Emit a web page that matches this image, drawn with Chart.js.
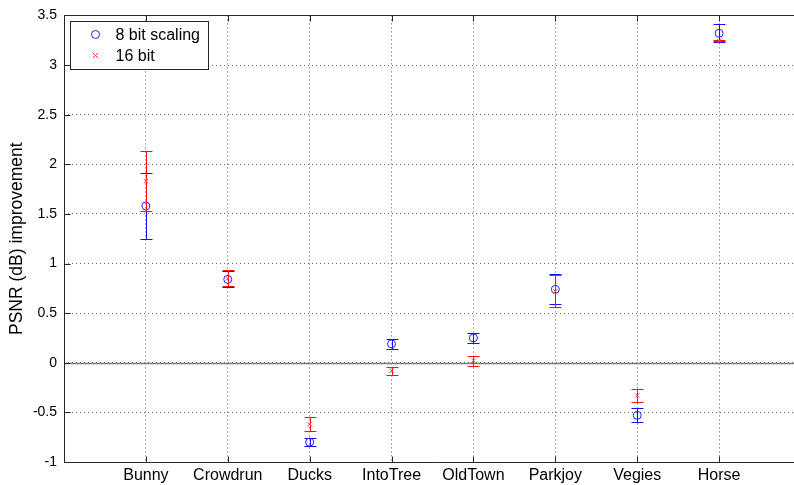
<!DOCTYPE html>
<html>
<head>
<meta charset="utf-8">
<script src="https://cdn.jsdelivr.net/npm/chart.js@4/dist/chart.umd.min.js"></script>
<style>
  html, body { margin: 0; padding: 0; background: #fff; overflow: hidden; }
  #wrap { position: relative; width: 806px; height: 485px; }
</style>
</head>
<body>
<div id="wrap"><canvas id="psnrChart"></canvas></div>
<script>
const categories = ["Bunny", "Crowdrun", "Ducks", "IntoTree", "OldTown", "Parkjoy", "Vegies", "Horse"];
const psnr8 = [1.58, 0.84, -0.80, 0.19, 0.25, 0.74, -0.53, 3.32];
const err8 = [0.33, 0.08, 0.04, 0.05, 0.05, 0.15, 0.07, 0.09];
const psnr16 = [1.83, 0.85, -0.62, -0.08, 0.02, 0.72, -0.33, 3.245];
const err16 = [0.30, 0.08, 0.07, 0.04, 0.05, 0.16, 0.07, 0.005];
const seriesNames = ["8 bit scaling", "16 bit"];
const yMin = -1, yMax = 3.5, yStep = 0.5;

const FONT = '"Liberation Sans", Arial, sans-serif';

const toPoints = (vals) => vals.map((v, i) => ({ x: i + 1, y: v }));

// vertical error bars with caps, drawn just before each dataset's markers
const errorBars = {
  id: "errorBars",
  beforeDatasetDraw(chart, args) {
    const ds = chart.data.datasets[args.index];
    const { x, y } = chart.scales;
    const ctx = chart.ctx;
    ctx.save();
    ctx.strokeStyle = ds.barColor;
    ctx.lineWidth = 1;
    ds.data.forEach((p, i) => {
      const px = Math.round(x.getPixelForValue(p.x)) + 0.5;
      const top = Math.round(y.getPixelForValue(p.y + ds.err[i])) + 0.5;
      const bot = Math.round(y.getPixelForValue(p.y - ds.err[i])) + 0.5;
      ctx.beginPath();
      ctx.moveTo(px, top);
      ctx.lineTo(px, bot);
      ctx.moveTo(px - 6, top);
      ctx.lineTo(px + 6, top);
      ctx.moveTo(px - 6, bot);
      ctx.lineTo(px + 6, bot);
      ctx.stroke();
    });
    ctx.restore();
  },
};

// zero line, axis box, inward ticks and the boxed legend
const frame = {
  id: "frame",
  beforeDatasetsDraw(chart) {
    const { ctx, chartArea: a, scales } = chart;
    const y0 = Math.round(scales.y.getPixelForValue(0)) + 0.5;
    ctx.save();
    ctx.strokeStyle = "#7a7a7a";
    ctx.lineWidth = 1.5;
    ctx.beginPath();
    ctx.moveTo(a.left, y0);
    ctx.lineTo(a.right, y0);
    ctx.stroke();
    ctx.restore();
  },
  afterDraw(chart) {
    const { ctx, chartArea: a, scales } = chart;
    const L = Math.round(a.left) + 0.5, T = Math.round(a.top) + 0.5;
    const B = Math.round(a.bottom) + 0.5, R = a.right;
    ctx.save();
    ctx.strokeStyle = "#262626";
    ctx.lineWidth = 1;
    ctx.beginPath();
    ctx.moveTo(R, T); ctx.lineTo(L, T); ctx.lineTo(L, B); ctx.lineTo(R, B);
    scales.x.ticks.forEach((t) => {
      const px = Math.round(scales.x.getPixelForValue(t.value)) + 0.5;
      ctx.moveTo(px, B); ctx.lineTo(px, B - 6);
      ctx.moveTo(px, T); ctx.lineTo(px, T + 6);
    });
    scales.y.ticks.forEach((t) => {
      const py = Math.round(scales.y.getPixelForValue(t.value)) + 0.5;
      ctx.moveTo(L, py); ctx.lineTo(L + 6, py);
    });
    ctx.stroke();

    // legend
    const lx = L + 6, ly = T + 6, lw = 138, lh = 48;
    ctx.fillStyle = "#fff";
    ctx.fillRect(lx, ly, lw, lh);
    ctx.strokeStyle = "#262626";
    ctx.strokeRect(lx, ly, lw, lh);
    const ds = chart.data.datasets;
    const mx = lx + 25;
    const rows = [ly + 13, ly + 34];
    ctx.lineWidth = 1;
    ctx.strokeStyle = ds[0].borderColor;
    ctx.beginPath();
    ctx.arc(mx, rows[0], 4, 0, Math.PI * 2);
    ctx.stroke();
    ctx.strokeStyle = ds[1].borderColor;
    ctx.beginPath();
    ctx.moveTo(mx - 2.5, rows[1] - 2.5); ctx.lineTo(mx + 2.5, rows[1] + 2.5);
    ctx.moveTo(mx + 2.5, rows[1] - 2.5); ctx.lineTo(mx - 2.5, rows[1] + 2.5);
    ctx.stroke();
    ctx.fillStyle = "#000";
    ctx.font = "16px " + FONT;
    ctx.textBaseline = "middle";
    ctx.textAlign = "left";
    ds.forEach((d, i) => ctx.fillText(d.label, lx + 45, rows[i] + 1));
    ctx.restore();
  },
};

new Chart(document.getElementById("psnrChart"), {
  type: "scatter",
  data: {
    datasets: [
      {
        label: seriesNames[0],
        data: toPoints(psnr8),
        err: err8,
        barColor: "#1010ff",
        borderColor: "#2020ff",
        backgroundColor: "rgba(0,0,0,0)",
        pointStyle: "circle",
        pointRadius: 4,
        pointBorderWidth: 1,
        order: 1,
      },
      {
        label: seriesNames[1],
        data: toPoints(psnr16),
        err: err16,
        barColor: "#ff1010",
        borderColor: "#ff4040",
        backgroundColor: "rgba(0,0,0,0)",
        pointStyle: "crossRot",
        pointRadius: 3,
        pointBorderWidth: 1,
        order: 0,
      },
    ],
  },
  options: {
    responsive: true,
    maintainAspectRatio: false,
    animation: false,
    layout: { padding: { left: 0, top: 14, right: 3, bottom: 0 } },
    plugins: { legend: { display: false }, tooltip: { enabled: false } },
    scales: {
      x: {
        type: "linear",
        min: 0,
        max: categories.length + 1,
        afterFit: (s) => { s.height = 23; },
        ticks: {
          stepSize: 1,
          autoSkip: false,
          maxRotation: 0,
          padding: 4,
          color: "#000",
          font: { family: FONT, size: 16 },
          callback: (v) => categories[v - 1] || "",
        },
        grid: { color: "#5a5a5a", lineWidth: 1, drawTicks: false },
        border: { display: false, dash: [1, 3] },
      },
      y: {
        min: yMin,
        max: yMax,
        afterFit: (s) => { s.width = 64; },
        ticks: {
          stepSize: yStep,
          padding: 7,
          color: "#000",
          font: { family: FONT, size: 14 },
          callback: (v) => String(Math.round(v * 10) / 10),
        },
        grid: { color: "#6a6a6a", lineWidth: 1, drawTicks: false },
        border: { display: false, dash: [1, 3] },
        title: {
          display: true,
          text: "PSNR (dB) improvement",
          color: "#000",
          font: { family: FONT, size: 17.5 },
          padding: { top: 7, bottom: 0 },
        },
      },
    },
  },
  plugins: [errorBars, frame],
});
</script>
</body>
</html>
